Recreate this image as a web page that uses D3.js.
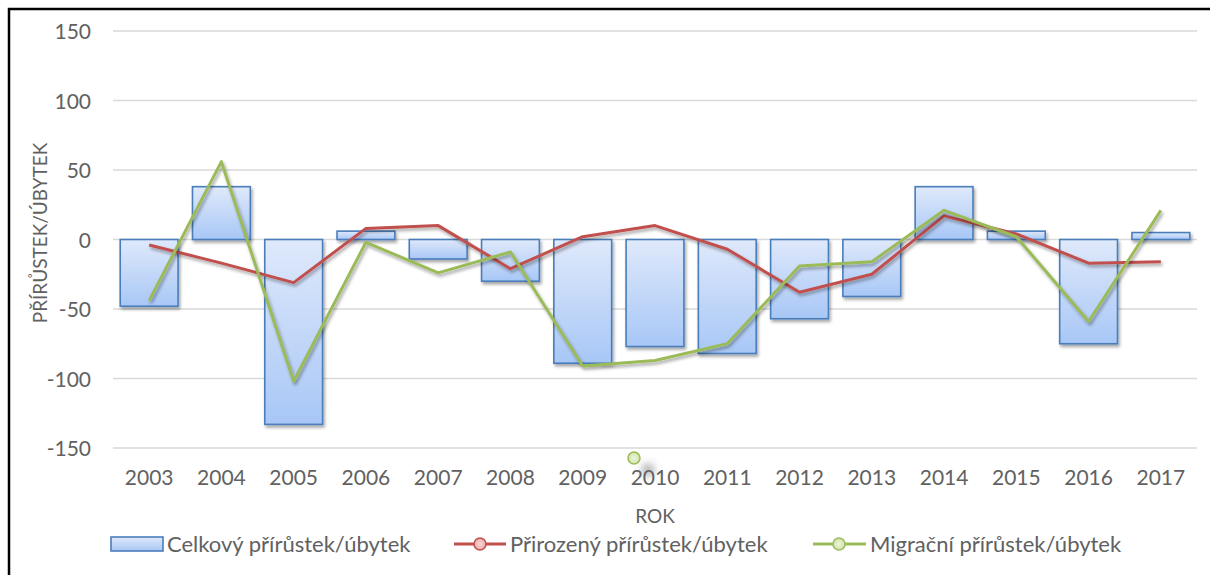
<!DOCTYPE html>
<html>
<head>
<meta charset="utf-8">
<script src="https://cdn.jsdelivr.net/npm/d3@7"></script>
<style>
  html, body { margin: 0; padding: 0; background: #fff; }
  svg { display: block; }
  text { font-family: Lato, sans-serif; fill: #616161; }
</style>
</head>
<body>
<svg id="chart" width="1210" height="575"></svg>
<script>
const years = ["2003","2004","2005","2006","2007","2008","2009","2010","2011","2012","2013","2014","2015","2016","2017"];
const celkovy = [-48, 38, -133, 6, -14, -30, -89, -77, -82, -57, -41, 38, 6, -75, 5];
const prirozeny = [-4, -17, -31, 8, 10, -21, 2, 10, -7, -38, -25, 17, 4, -17, -16];
const migracni = [-44, 56, -102, -2, -24, -9, -91, -87, -75, -19, -16, 21, 2, -59, 21];
const yTicks = [-150, -100, -50, 0, 50, 100, 150];
const seriesNames = ["Celkový přírůstek/úbytek", "Přirozený přírůstek/úbytek", "Migrační přírůstek/úbytek"];
const yTitle = "PŘÍRŮSTEK/ÚBYTEK";
const xTitle = "ROK";

const FONT = "Lato, sans-serif";
const TXT = "#616161";
const svg = d3.select("#chart");
const defs = svg.append("defs");

const grad = defs.append("linearGradient").attr("id", "barGrad")
  .attr("x1", 0).attr("y1", 0).attr("x2", 0).attr("y2", 1);
grad.append("stop").attr("offset", "0%").attr("stop-color", "#dfe9fb");
grad.append("stop").attr("offset", "100%").attr("stop-color", "#a8c7f6");

const shadow = defs.append("filter").attr("id", "shadow")
  .attr("x", "-20%").attr("y", "-20%").attr("width", "140%").attr("height", "140%");
shadow.append("feDropShadow").attr("dx", 1.5).attr("dy", 2.5)
  .attr("stdDeviation", 1.6).attr("flood-color", "#000").attr("flood-opacity", 0.35);

const blur = defs.append("filter").attr("id", "blur")
  .attr("x", "-100%").attr("y", "-100%").attr("width", "300%").attr("height", "300%");
blur.append("feGaussianBlur").attr("stdDeviation", 4);

const mgGrad = defs.append("radialGradient").attr("id", "mgGrad");
mgGrad.append("stop").attr("offset", "0%").attr("stop-color", "#eef5e0");
mgGrad.append("stop").attr("offset", "100%").attr("stop-color", "#cfe3a6");
const rdGrad = defs.append("radialGradient").attr("id", "rdGrad");
rdGrad.append("stop").attr("offset", "0%").attr("stop-color", "#f7d9d9");
rdGrad.append("stop").attr("offset", "100%").attr("stop-color", "#eba8a7");

// outer border
svg.append("rect").attr("x", 9).attr("y", 9).attr("width", 1240).attr("height", 620)
  .attr("fill", "none").attr("stroke", "#000").attr("stroke-width", 2.5);

const x = d3.scaleBand().domain(years).range([113, 1197]).paddingInner(0).paddingOuter(0);
const y = d3.scaleLinear().domain([-150, 150]).range([448, 31]);
const step = x.bandwidth();
const cx = d => x(d) + step / 2;

// grid
svg.append("g").selectAll("line").data(yTicks).join("line")
  .attr("x1", 113).attr("x2", 1197)
  .attr("y1", d => y(d)).attr("y2", d => y(d))
  .attr("stroke", "#d9d9d9").attr("stroke-width", 1.5);

// y axis labels
const yAxis = d3.axisLeft(y).tickValues(yTicks).tickSize(0).tickPadding(0).tickFormat(d => String(d));
const gy = svg.append("g").attr("transform", "translate(91,0)").call(yAxis);
gy.select(".domain").remove();
gy.selectAll("text").attr("font-size", 21).attr("fill", TXT)
  .style("font-family", FONT).attr("dy", "0.36em");

// x axis labels
const xAxis = d3.axisBottom(x).tickSize(0).tickPadding(0);
const gx = svg.append("g").attr("transform", "translate(0,470)").call(xAxis);
gx.select(".domain").remove();
gx.selectAll("text").attr("font-size", 21).attr("fill", TXT)
  .style("font-family", FONT).attr("dy", "0.7em");

// bars
svg.append("g").attr("filter", "url(#shadow)").selectAll("rect").data(years).join("rect")
  .attr("x", (d) => x(d) + step * 0.1)
  .attr("width", step * 0.8)
  .attr("y", (d, i) => Math.min(y(0), y(celkovy[i])))
  .attr("height", (d, i) => Math.abs(y(celkovy[i]) - y(0)))
  .attr("fill", "url(#barGrad)").attr("stroke", "#4a7ebb").attr("stroke-width", 1.6);

// lines
const line = d3.line().x(d => cx(d[0])).y(d => y(d[1]));
svg.append("path").datum(years.map((yr, i) => [yr, prirozeny[i]]))
  .attr("d", line).attr("fill", "none").attr("stroke", "#c0504d").attr("stroke-width", 3)
  .attr("stroke-linejoin", "round").attr("filter", "url(#shadow)");
svg.append("path").datum(years.map((yr, i) => [yr, migracni[i]]))
  .attr("d", line).attr("fill", "none").attr("stroke", "#9bbb59").attr("stroke-width", 3)
  .attr("stroke-linejoin", "round").attr("filter", "url(#shadow)");

// axis titles
svg.append("text").attr("transform", "translate(47,233) rotate(-90)")
  .attr("text-anchor", "middle").attr("font-size", 19).text(yTitle);
svg.append("text").attr("x", 655).attr("y", 523)
  .attr("text-anchor", "middle").attr("font-size", 19).text(xTitle);

// stray marker near 2010 label
svg.append("circle").attr("cx", 648).attr("cy", 470).attr("r", 6)
  .attr("fill", "#666").attr("opacity", 0.6).attr("filter", "url(#blur)");
svg.append("circle").attr("cx", 634).attr("cy", 458).attr("r", 6)
  .attr("fill", "url(#mgGrad)").attr("stroke", "#9bbb59").attr("stroke-width", 1.5);

// legend
const leg = svg.append("g");
leg.append("rect").attr("x", 111).attr("y", 537).attr("width", 52).attr("height", 14)
  .attr("fill", "url(#barGrad)").attr("stroke", "#4a7ebb").attr("stroke-width", 1.6);
leg.append("text").attr("x", 167).attr("y", 544).attr("dy", "0.36em").attr("font-size", 22).text(seriesNames[0]);

leg.append("line").attr("x1", 454).attr("x2", 506).attr("y1", 544).attr("y2", 544)
  .attr("stroke", "#c0504d").attr("stroke-width", 3);
leg.append("circle").attr("cx", 480).attr("cy", 544).attr("r", 6)
  .attr("fill", "url(#rdGrad)").attr("stroke", "#c0504d").attr("stroke-width", 1.5);
leg.append("text").attr("x", 510).attr("y", 544).attr("dy", "0.36em").attr("font-size", 22).text(seriesNames[1]);

leg.append("line").attr("x1", 813).attr("x2", 866).attr("y1", 544).attr("y2", 544)
  .attr("stroke", "#9bbb59").attr("stroke-width", 3);
leg.append("circle").attr("cx", 839).attr("cy", 544).attr("r", 6)
  .attr("fill", "url(#mgGrad)").attr("stroke", "#9bbb59").attr("stroke-width", 1.5);
leg.append("text").attr("x", 870).attr("y", 544).attr("dy", "0.36em").attr("font-size", 22).text(seriesNames[2]);
</script>
</body>
</html>
